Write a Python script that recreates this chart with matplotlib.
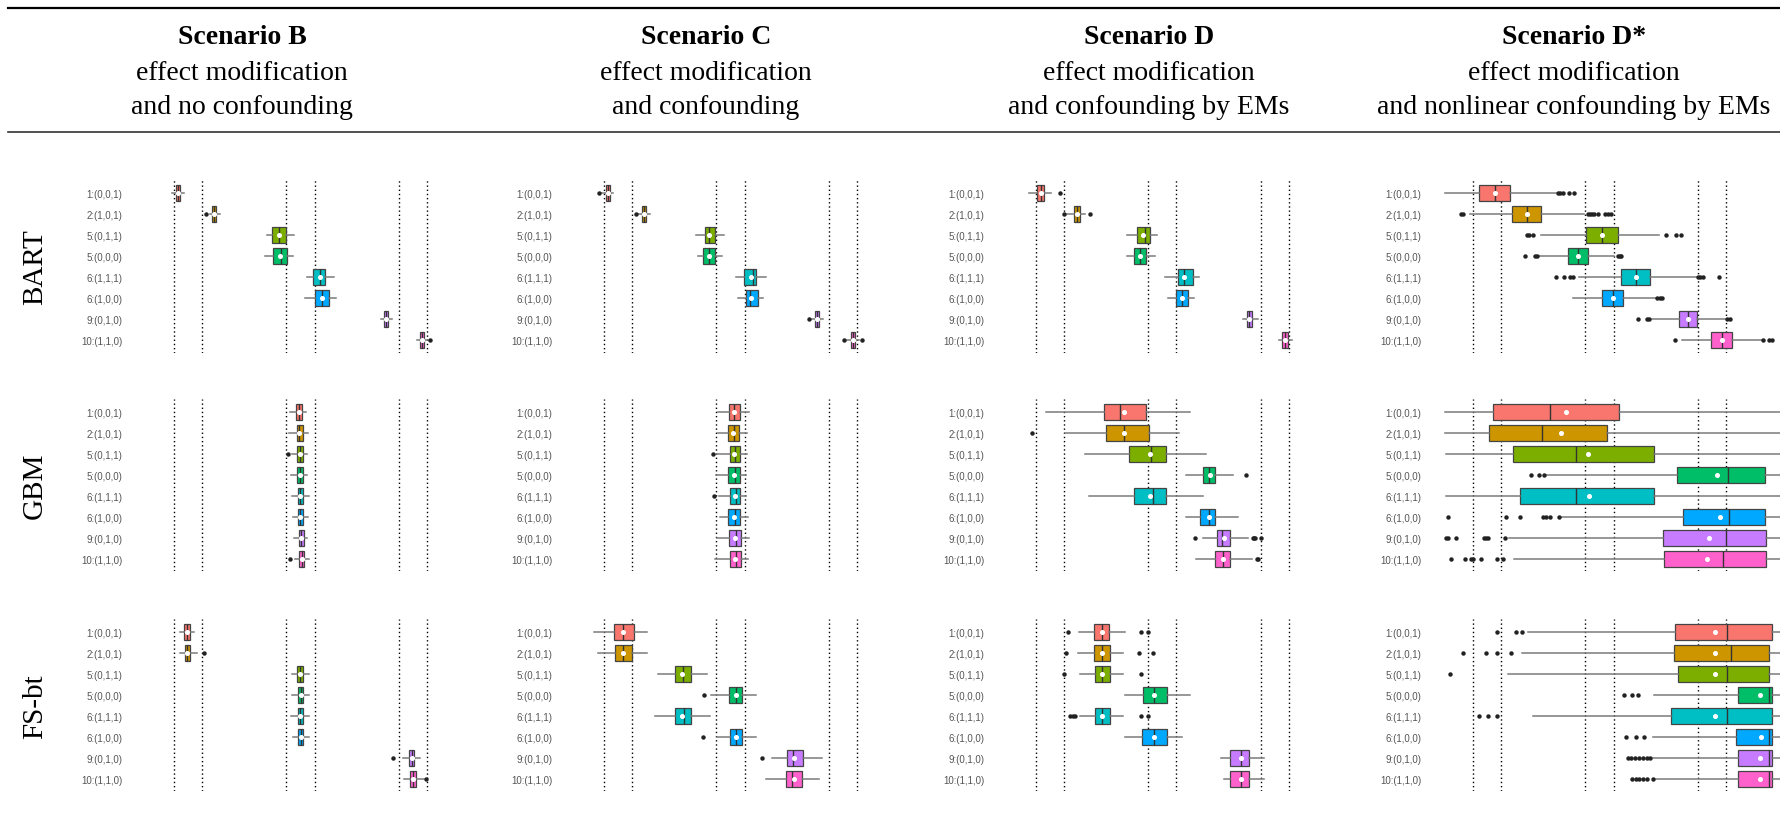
import matplotlib
matplotlib.use("Agg")
import matplotlib.pyplot as plt
from matplotlib.lines import Line2D

# row labels (top to bottom) and ggplot hue colours
labels = ['1:(0,0,1)', '2:(1,0,1)', '5:(0,1,1)', '5:(0,0,0)',
          '6:(1,1,1)', '6:(1,0,0)', '9:(0,1,0)', '10:(1,1,0)']
colors = ['#F8766D', '#CD9600', '#7CAE00', '#00BE67',
          '#00BFC4', '#00A9FF', '#C77CFF', '#FF61CC']
truth = [1, 2, 5, 6, 9, 10]

methods = ['BART', 'GBM', 'FS-bt']
titles = ['Scenario B', 'Scenario C', 'Scenario D', 'Scenario D*']
subtitles = [['effect modification', 'and no confounding'],
             ['effect modification', 'and confounding'],
             ['effect modification', 'and confounding by EMs'],
             ['effect modification', 'and nonlinear confounding by EMs']]

# each row: (whislo, q1, med, q3, whishi, mean, fliers)
BART_B = [
    (0.93, 1.07, 1.14, 1.21, 1.36, 1.14, []),
    (2.27, 2.35, 2.42, 2.49, 2.64, 2.42, [2.14]),
    (4.31, 4.49, 4.74, 4.97, 5.28, 4.74, []),
    (4.24, 4.52, 4.82, 5.02, 5.23, 4.78, []),
    (5.74, 5.95, 6.21, 6.39, 6.68, 6.18, []),
    (5.66, 6.00, 6.26, 6.52, 6.78, 6.26, []),
    (8.38, 8.49, 8.54, 8.60, 8.76, 8.54, []),
    (9.65, 9.75, 9.83, 9.90, 10.04, 9.83, [10.12]),
]
BART_C = [
    (0.90, 1.07, 1.14, 1.23, 1.32, 1.14, [0.83]),
    (2.21, 2.35, 2.41, 2.49, 2.65, 2.41, [2.14]),
    (4.27, 4.59, 4.75, 4.96, 5.26, 4.75, []),
    (4.35, 4.53, 4.75, 4.96, 5.21, 4.75, []),
    (5.70, 5.99, 6.30, 6.42, 6.78, 6.22, []),
    (5.78, 6.07, 6.19, 6.49, 6.67, 6.22, []),
    (8.39, 8.51, 8.58, 8.66, 8.79, 8.58, [8.30]),
    (9.63, 9.78, 9.86, 9.94, 10.07, 9.86, [9.53, 10.19]),
]
BART_D = [
    (0.76, 1.04, 1.18, 1.30, 1.53, 1.18, [1.84]),
    (2.10, 2.34, 2.46, 2.58, 2.73, 2.46, [1.98, 2.92]),
    (4.25, 4.59, 4.88, 5.07, 5.31, 4.82, []),
    (4.23, 4.48, 4.69, 4.90, 5.23, 4.69, []),
    (5.58, 6.04, 6.26, 6.59, 6.79, 6.26, []),
    (5.70, 5.97, 6.21, 6.40, 6.62, 6.21, []),
    (8.38, 8.50, 8.58, 8.68, 8.89, 8.58, []),
    (9.65, 9.77, 9.86, 9.96, 10.11, 9.86, []),
]
BART_DS = [
    (-0.01, 1.21, 1.78, 2.30, 3.97, 1.78, [4.01, 4.11, 4.20, 4.40, 4.61]),
    (0.91, 2.38, 2.92, 3.43, 4.96, 2.92, [0.58, 0.66, 5.08, 5.15, 5.24, 5.32, 5.44, 5.71, 5.80, 5.91]),
    (3.42, 5.02, 5.59, 6.15, 7.61, 5.59, [2.92, 3.01, 3.13, 7.87, 8.22, 8.41]),
    (3.31, 4.38, 4.74, 5.08, 6.00, 4.73, [2.84, 3.22, 3.28, 6.15, 6.22, 6.27]),
    (4.78, 6.27, 6.79, 7.29, 8.97, 6.79, [3.95, 4.23, 4.46, 4.55, 9.01, 9.09, 9.19, 9.77]),
    (4.55, 5.58, 5.97, 6.35, 7.52, 5.97, [7.55, 7.64, 7.74]),
    (7.37, 8.34, 8.64, 8.97, 9.98, 8.64, [6.86, 7.19, 7.28, 10.03, 10.13]),
    (8.44, 9.48, 9.85, 10.20, 11.28, 9.85, [8.19, 11.32, 11.52, 11.64]),
]

GBM_B = [
    (5.12, 5.35, 5.46, 5.55, 5.71, 5.46, []),
    (5.08, 5.37, 5.46, 5.58, 5.77, 5.46, []),
    (5.20, 5.39, 5.48, 5.58, 5.73, 5.48, [5.05]),
    (5.15, 5.39, 5.47, 5.58, 5.73, 5.47, []),
    (5.20, 5.40, 5.50, 5.59, 5.79, 5.50, []),
    (5.24, 5.40, 5.50, 5.59, 5.76, 5.50, []),
    (5.26, 5.45, 5.53, 5.63, 5.74, 5.53, []),
    (5.30, 5.46, 5.55, 5.63, 5.80, 5.55, [5.14]),
]
GBM_C = [
    (5.05, 5.45, 5.63, 5.85, 6.15, 5.61, []),
    (5.05, 5.41, 5.61, 5.80, 6.09, 5.59, []),
    (5.01, 5.47, 5.66, 5.85, 6.09, 5.64, [4.88]),
    (4.99, 5.41, 5.66, 5.85, 6.04, 5.62, []),
    (5.09, 5.50, 5.69, 5.85, 6.07, 5.66, [4.91]),
    (5.14, 5.42, 5.66, 5.85, 6.12, 5.64, []),
    (5.01, 5.46, 5.69, 5.86, 6.15, 5.65, []),
    (4.96, 5.48, 5.70, 5.86, 6.12, 5.65, []),
]
GBM_D = [
    (1.36, 3.43, 3.98, 4.91, 6.49, 4.12, []),
    (2.02, 3.50, 4.12, 5.02, 6.10, 4.12, [0.87]),
    (2.73, 4.30, 5.09, 5.63, 7.05, 5.05, []),
    (6.34, 6.94, 7.16, 7.38, 8.02, 7.18, [8.47]),
    (2.87, 4.48, 5.15, 5.61, 6.94, 5.05, []),
    (6.34, 6.82, 7.16, 7.37, 8.18, 7.16, []),
    (6.95, 7.43, 7.61, 7.89, 8.54, 7.69, [6.65, 8.71, 8.77, 8.81, 9.00]),
    (6.68, 7.36, 7.64, 7.89, 8.69, 7.66, [8.86, 8.90]),
]
GBM_DS = [
    (-0.01, 1.70, 3.74, 6.18, 12.5, 4.31, []),
    (-0.01, 1.57, 3.46, 5.76, 12.5, 4.12, []),
    (0.05, 2.42, 4.68, 7.43, 12.5, 5.08, []),
    (3.61, 8.26, 10.06, 11.40, 12.5, 9.70, [3.08, 3.36, 3.51]),
    (0.03, 2.67, 4.65, 7.45, 12.5, 5.12, []),
    (4.11, 8.46, 10.10, 11.38, 12.5, 9.78, [0.11, 2.16, 2.68, 3.49, 3.61, 3.75, 4.05]),
    (2.27, 7.75, 9.99, 11.44, 12.5, 9.40, [0.05, 0.12, 0.38, 1.40, 1.47, 1.55, 2.13]),
    (2.45, 7.79, 9.89, 11.42, 12.5, 9.33, [0.22, 0.70, 0.94, 1.00, 1.28, 1.85, 2.07]),
]

FS_B = [
    (1.20, 1.36, 1.47, 1.57, 1.71, 1.47, []),
    (1.20, 1.38, 1.47, 1.58, 1.81, 1.47, [2.08]),
    (5.20, 5.39, 5.48, 5.58, 5.82, 5.48, []),
    (5.21, 5.41, 5.51, 5.60, 5.80, 5.51, []),
    (5.18, 5.40, 5.50, 5.60, 5.82, 5.50, []),
    (5.22, 5.42, 5.52, 5.60, 5.80, 5.52, []),
    (9.15, 9.36, 9.46, 9.55, 9.77, 9.46, [8.78]),
    (9.18, 9.40, 9.51, 9.60, 9.90, 9.51, [9.97]),
]
FS_C = [
    (0.64, 1.36, 1.68, 2.06, 2.54, 1.68, []),
    (0.80, 1.38, 1.68, 2.00, 2.52, 1.68, []),
    (2.91, 3.53, 3.80, 4.10, 4.68, 3.78, []),
    (4.82, 5.45, 5.70, 5.92, 6.42, 5.70, [4.57]),
    (2.80, 3.53, 3.86, 4.11, 4.77, 3.79, []),
    (5.02, 5.47, 5.70, 5.91, 6.41, 5.70, [4.53]),
    (6.98, 7.51, 7.71, 8.07, 8.76, 7.76, [6.61]),
    (6.77, 7.49, 7.70, 8.05, 8.66, 7.76, []),
]
FS_D = [
    (2.54, 3.06, 3.35, 3.59, 4.16, 3.35, [2.13, 4.72, 4.97]),
    (2.50, 3.06, 3.35, 3.63, 4.10, 3.35, [2.05, 4.68, 5.17]),
    (2.55, 3.10, 3.35, 3.63, 4.10, 3.35, [2.00, 4.72]),
    (4.16, 4.81, 5.21, 5.66, 6.47, 5.21, []),
    (2.55, 3.10, 3.35, 3.63, 4.10, 3.35, [2.20, 2.30, 2.40, 4.72, 4.97]),
    (4.16, 4.77, 5.21, 5.66, 6.18, 5.21, []),
    (7.60, 7.92, 8.29, 8.57, 9.13, 8.29, []),
    (7.70, 7.92, 8.29, 8.57, 9.10, 8.29, []),
]
FS_DS = [
    (2.94, 8.20, 10.03, 11.65, 12.5, 9.62, [1.85, 2.54, 2.74]),
    (2.74, 8.17, 10.19, 11.53, 12.5, 9.62, [0.64, 1.45, 1.85, 2.34]),
    (2.26, 8.29, 10.03, 11.53, 12.5, 9.62, [0.19]),
    (7.44, 10.43, 11.55, 11.65, 12.5, 11.20, [6.38, 6.67, 6.87]),
    (3.15, 8.04, 10.03, 11.65, 12.5, 9.62, [1.20, 1.53, 1.85]),
    (7.40, 10.35, 11.55, 11.65, 12.5, 11.24, [6.43, 6.79, 7.07]),
    (7.40, 10.43, 11.55, 11.65, 12.5, 11.20, [6.50, 6.62, 6.75, 6.90, 7.05, 7.20, 7.30]),
    (7.50, 10.43, 11.55, 11.65, 12.5, 11.20, [6.67, 6.80, 6.92, 7.05, 7.20, 7.40]),
]

panels = [[BART_B, BART_C, BART_D, BART_DS],
          [GBM_B, GBM_C, GBM_D, GBM_DS],
          [FS_B, FS_C, FS_D, FS_DS]]

W, H = 1781, 837
fig = plt.figure(figsize=(W / 100, H / 100), dpi=100)

serif = ['Liberation Serif', 'DejaVu Serif']
sans = ['Liberation Sans', 'DejaVu Sans']


def px_axes(left, top, width, height):
    return fig.add_axes([left / W, 1 - (top + height) / H, width / W, height / H])


# layout in pixels
x_one = [174, 604, 1036, 1473]     # where x = 1 falls in each column
unit = 28.1
x_lo, x_hi = -0.65, 12.0
row_first = [194, 412.7, 632.7]     # centre of first box row
step = 21.0

for r, method in enumerate(methods):
    for c in range(4):
        left = x_one[c] - (1 - x_lo) * unit
        width = (x_hi - x_lo) * unit
        top = row_first[r] - 0.6 * step
        ax = px_axes(left, top, width, 8.2 * step)
        stats = []
        for lo, q1, med, q3, hi, mean, fl in panels[r][c]:
            stats.append(dict(whislo=lo, q1=q1, med=med, q3=q3, whishi=hi,
                              mean=mean, fliers=fl))
        for v in truth:
            ax.axvline(v, color='black', lw=1.0, ls=(0, (1, 2.0)), zorder=1)
        res = ax.bxp(stats, positions=range(1, 9), widths=0.76,
                     orientation='horizontal', patch_artist=True,
                     showmeans=True, showcaps=False, manage_ticks=False,
                     boxprops=dict(edgecolor='#444444', linewidth=0.9),
                     whiskerprops=dict(color='#7a7a7a', linewidth=1.1),
                     medianprops=dict(color='#333333', linewidth=1.0),
                     meanprops=dict(marker='o', markersize=2.6,
                                    markerfacecolor='white',
                                    markeredgecolor='white'),
                     flierprops=dict(marker='o', markersize=3.2,
                                     markerfacecolor='#222222',
                                     markeredgecolor='none'),
                     zorder=2)
        for patch, col in zip(res['boxes'], colors):
            patch.set_facecolor(col)
        ax.set_xlim(x_lo, x_hi)
        ax.set_ylim(8.6, 0.4)
        ax.set_yticks(range(1, 9))
        ax.set_yticklabels(labels, family=sans, fontsize=7, color='#555555')
        ax.set_xticks([])
        ax.tick_params(axis='y', length=0, pad=4)
        for s in ax.spines.values():
            s.set_visible(False)
        ax.patch.set_alpha(0)
    ymid = row_first[r] + 3.5 * step
    fig.text(35 / W, 1 - ymid / H, method, rotation=90, ha='center',
             va='center', family=serif, fontsize=21)

# header table
head_x = [242, 706, 1149, 1574]
for c in range(4):
    fig.text(head_x[c] / W, 1 - 38 / H, titles[c], ha='center', va='center',
             family=serif, fontsize=20, fontweight='bold')
    for k, line in enumerate(subtitles[c]):
        fig.text(head_x[c] / W, 1 - (73 + 35 * k) / H, line, ha='center',
                 va='center', family=serif, fontsize=20)

fig.add_artist(Line2D([8 / W, 1], [1 - 9 / H] * 2, color='black', lw=1.6))
fig.add_artist(Line2D([8 / W, 1], [1 - 133 / H] * 2, color='#333333', lw=1.2))

fig.savefig('out.png', dpi=100)
